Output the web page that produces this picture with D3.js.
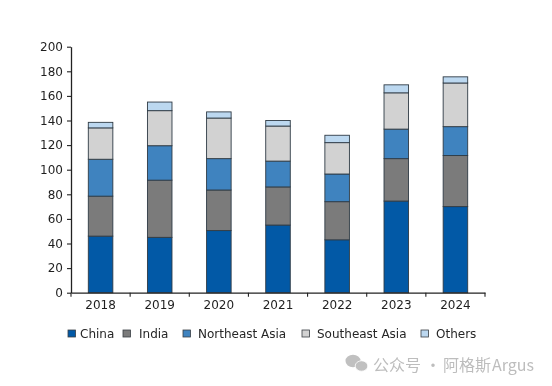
<!DOCTYPE html>
<html>
<head>
<meta charset="utf-8">
<script src="https://cdn.jsdelivr.net/npm/d3@7"></script>
<style>
html,body{margin:0;padding:0;background:#fff}
svg{display:block}
text{font-family:"DejaVu Sans",sans-serif;fill:#262626}
</style>
</head>
<body>
<svg id="c" width="552" height="386"></svg>
<script>
const years = ["2018","2019","2020","2021","2022","2023","2024"];
const seriesNames = ["China","India","Northeast Asia","Southeast Asia","Others"];
const china = [46,45,50.5,55,43,74.5,70];
const india = [32.5,46.5,33,31,31,34.5,41.5];
const northeastAsia = [30,28,25.5,21,22.5,24,23.5];
const southeastAsia = [25.5,28.5,33,28.5,25.5,29.5,35.5];
const others = [4.5,7,5,4.5,6,6.5,5];
const yTicks = [0,20,40,60,80,100,120,140,160,180,200];
const colors = ["#0259a6","#7b7b7b","#3f83bf","#d2d2d2","#bcd8f0"];
const seriesValues = [china,india,northeastAsia,southeastAsia,others];

const svg = d3.select("#c");
const x = d3.scaleBand().domain(years).range([71,485]).paddingInner(0.585).paddingOuter(0.2925);
const y = d3.scaleLinear().domain([0,200]).range([292.7,46.7]);

const rows = years.map((yr,i)=>{
  const r = {year:yr};
  seriesNames.forEach((s,j)=>r[s]=seriesValues[j][i]);
  return r;
});
const stacked = d3.stack().keys(seriesNames)(rows);

const root = svg.append("g").style("filter","blur(0.45px)");

root.selectAll("g.s").data(stacked).join("g").attr("class","s")
  .attr("fill",(d,i)=>colors[i])
  .selectAll("rect").data(d=>d).join("rect")
  .attr("x",d=>x(d.data.year))
  .attr("width",x.bandwidth())
  .attr("y",d=>y(d[1]))
  .attr("height",d=>y(d[0])-y(d[1]))
  .attr("stroke","#2f3b45")
  .attr("stroke-width",0.9);

const yAxis = root.append("g").attr("transform","translate(71,0)")
  .call(d3.axisLeft(y).tickValues(yTicks).tickSize(4).tickPadding(4).tickSizeOuter(0));
const bandStep = x.step();
const xEdges = d3.range(years.length+1).map(i=>71+i*bandStep);
const xAxis = root.append("g").attr("transform","translate(0,292.7)")
  .call(d3.axisBottom(x).tickSize(0).tickPadding(8));
xAxis.selectAll(".edge").data(xEdges).join("line").attr("class","edge")
  .attr("x1",d=>d).attr("x2",d=>d).attr("y1",0).attr("y2",4)
  .attr("stroke","#222").attr("stroke-width",1.1);
[yAxis,xAxis].forEach(a=>{
  a.selectAll("path").attr("stroke","#222").attr("stroke-width",1.3);
  a.selectAll(".tick line").attr("stroke","#222").attr("stroke-width",1.1);
  a.selectAll("text").style("font-family",'"DejaVu Sans",sans-serif').style("font-size","12px").style("fill","#1f1f1f");
});

const legendX = [68,123,183,302,421];
const labelX = [80,139,198,317,436];
const legend = root.append("g").selectAll("g").data(seriesNames).join("g");
legend.append("rect")
  .attr("x",(d,i)=>legendX[i]).attr("y",330).attr("width",7.5).attr("height",7)
  .attr("fill",(d,i)=>colors[i]).attr("stroke","#3a3f44").attr("stroke-width",0.8);
legend.append("text")
  .attr("x",(d,i)=>labelX[i]).attr("y",338)
  .style("font-size","12px").text(d=>d);

const wm = root.append("g").attr("fill","#c0c0c0");
wm.append("ellipse").attr("cx",353).attr("cy",361).attr("rx",7.5).attr("ry",6.2);
wm.append("ellipse").attr("cx",361.5).attr("cy",366).attr("rx",6.3).attr("ry",5.2).attr("stroke","#fff").attr("stroke-width",0.8);
const wmFont = '"Noto Sans CJK SC",sans-serif';
[["公众号",373],["·",425],["阿格斯",443],["Argus",492]].forEach(([t,px])=>{
  wm.append("text").attr("x",px).attr("y",371)
    .style("font-family",wmFont).style("font-size","16px").style("fill","#bdbdbd").text(t);
});
</script>
</body>
</html>
